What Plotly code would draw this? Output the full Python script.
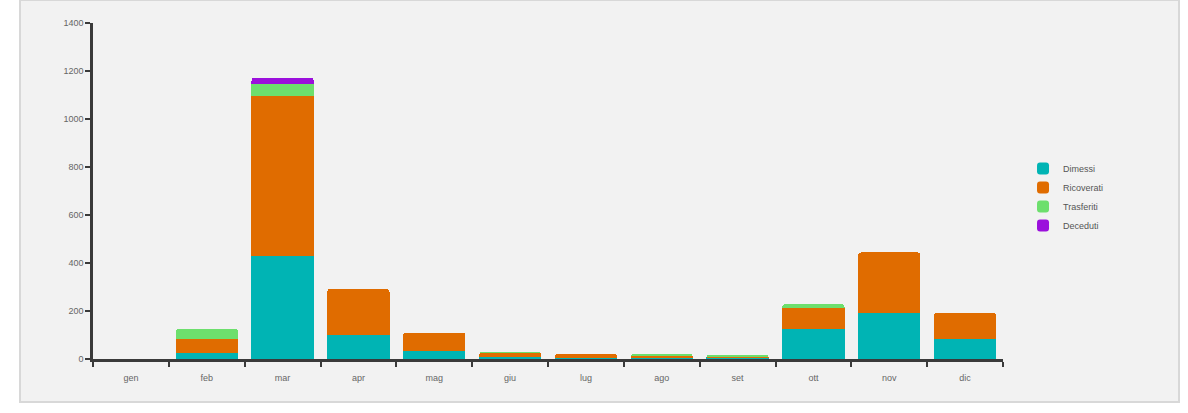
import plotly.graph_objects as go

months = ["gen", "feb", "mar", "apr", "mag", "giu", "lug", "ago", "set", "ott", "nov", "dic"]
dimessi = [0, 25, 429, 100, 33, 7, 4, 8, 5, 124, 193, 82]
ricoverati = [0, 58, 668, 192, 77, 20, 18, 6, 5, 87, 251, 111]
trasferiti = [0, 42, 49, 0, 0, 2, 0, 6, 8, 18, 0, 0]
deceduti = [0, 0, 26, 0, 0, 0, 0, 0, 0, 0, 0, 0]

series = [
    ("Dimessi", dimessi, "#00b4b4"),
    ("Ricoverati", ricoverati, "#e06c00"),
    ("Trasferiti", trasferiti, "#6ddf6d"),
    ("Deceduti", deceduti, "#9b10dc"),
]

fig = go.Figure()
for name, vals, col in series:
    fig.add_trace(go.Bar(x=months, y=vals, name=name, marker_color=col,
                         marker_line_width=0))

fig.update_layout(
    barmode="stack",
    bargap=0.18,
    barcornerradius=3,
    width=1188, height=413,
    margin=dict(l=93, r=185, t=23, b=54),
    paper_bgcolor="white",
    plot_bgcolor="#f2f2f2",
    font=dict(family="Liberation Sans, Arial, sans-serif", size=9, color="#555555"),
    legend=dict(x=1.022, y=0.482, xanchor="left", yanchor="middle",
                traceorder="normal",
                font=dict(size=9, color="#555555"), bgcolor="rgba(0,0,0,0)",
                itemwidth=30, tracegroupgap=0),
    showlegend=True,
    shapes=[dict(type="rect", xref="paper", yref="paper",
                 x0=-73/910, x1=(1179-93)/910, y0=-(402-359)/336, y1=1 + 23/336,
                 fillcolor="#f2f2f2", line=dict(color="#d8d8d8", width=2), layer="below")],
)
fig.update_xaxes(showline=True, linecolor="#3a3a3a", linewidth=2.5, ticks="outside",
                 tickson="boundaries", ticklen=5, tickcolor="#3a3a3a", tickwidth=2,
                 showgrid=False, ticklabelstandoff=8,
                 tickfont=dict(size=9, color="#666666"))
fig.update_yaxes(range=[0, 1400], dtick=200, showline=True, linecolor="#3a3a3a",
                 linewidth=2.5, ticks="outside", ticklen=5, tickcolor="#3a3a3a",
                 tickwidth=2, showgrid=False, zeroline=False,
                 tickfont=dict(size=9, color="#666666"))

fig.write_html("out.html")
